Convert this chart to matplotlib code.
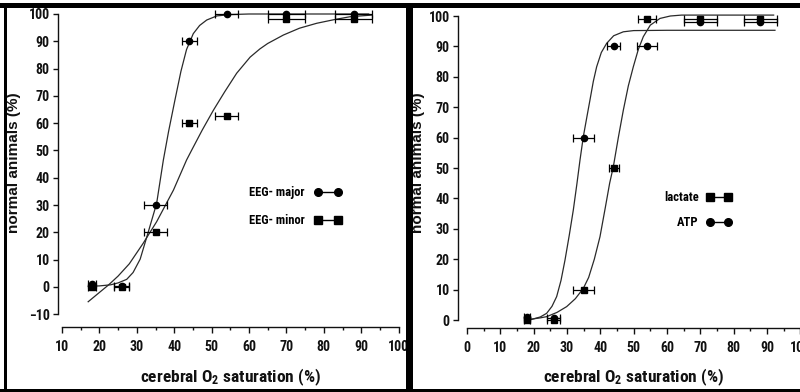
import matplotlib
matplotlib.use('Agg')
import matplotlib.pyplot as plt
from matplotlib.patches import Rectangle
from matplotlib.lines import Line2D
from matplotlib.ticker import MultipleLocator

# ---------------- data ----------------
sat = [18, 26, 35, 44, 54, 70, 88]

# left panel (EEG)
eeg_major = [1, 0.5, 30, 90, 100, 100, 100]
eeg_major_err = [1, 2, 3, 2, 3, 5, 5]
eeg_minor = [0, 0, 20, 60, 62.5, 98, 98]
eeg_minor_err = [1, 2, 3, 2, 3, 5, 5]

eeg_major_fit_x = [17, 20, 23, 25, 27.3, 29, 30.9, 33.1, 35.3, 37.1, 38.5, 40.2, 41.8,
                   43.3, 45.1, 46.8, 48.7, 51.4, 55, 60, 70, 80, 92]
eeg_major_fit_y = [0.3, 0.4, 0.8, 1.5, 2.8, 5.3, 10.2, 20.3, 30.6, 46.5, 57, 68.5, 79,
                   87, 92.8, 95.8, 97.8, 99.3, 99.8, 100, 100, 100, 100]
eeg_minor_fit_x = [17, 20, 22.4, 25, 28, 31.7, 35.3, 39.8, 43.3, 44.7, 47.5, 50.5, 53.5,
                   56.7, 60.3, 62.9, 65, 69.2, 73.5, 78.1, 83, 87, 92.8]
eeg_minor_fit_y = [-5.4, -2, 0.7, 4, 8.5, 16, 23.9, 35.5, 46.5, 50.2, 57.5, 64.8, 71.5,
                   78.3, 84.2, 87.2, 89.2, 92.3, 94.8, 96.6, 98, 99, 99.6]

# right panel (lactate / ATP)
lactate = [0, 0, 10, 50, 99, 99, 99]
lactate_err = [1, 2, 3.2, 1.5, 2.8, 5, 5]
atp = [1, 0.5, 60, 90, 90, 98, 98]
atp_err = [1, 2, 3.2, 2, 3, 5, 5]

atp_fit_x = [18, 19.4, 22, 23.9, 25.5, 26.9, 28.2, 29.4, 30.7, 31.9, 33, 33.9, 34.9, 36,
             36.9, 37.9, 38.9, 40.3, 41.9, 44, 46.9, 50, 60, 75, 92.4]
atp_fit_y = [0.1, 0.2, 1, 2.2, 4.5, 7.7, 13, 19.7, 28, 36.2, 45, 52.6, 60.3, 67,
             72.4, 78.5, 83.3, 88, 91, 93.5, 94.8, 95.2, 95.3, 95.3, 95.3]
lactate_fit_x = [18, 19.4, 22, 23.9, 27, 29.9, 32.5, 34.9, 36.5, 38.2, 39.9, 41.5, 42.8,
                 43.9, 45.4, 46.9, 48.4, 49.9, 51.4, 52.9, 55, 57.9, 61, 64.4, 75, 92]
lactate_fit_y = [0.2, 0.3, 0.7, 1.1, 2.5, 4.4, 7, 10.4, 14, 20, 27.4, 37, 45,
                 50.4, 60, 69, 77, 83.3, 89, 93.2, 97, 99.2, 100, 100.3, 100.3, 100.3]

xlabel = 'cerebral O$_2$ saturation (%)'
ylabel = 'normal animals (%)'

# ---------------- style ----------------
COND = ['Roboto Condensed', 'PT Sans Narrow', 'DejaVu Sans']
plt.rcParams['font.family'] = COND
plt.rcParams['font.weight'] = 'bold'
plt.rcParams['mathtext.default'] = 'regular'

W, H = 800, 392
fig = plt.figure(figsize=(W / 100, H / 100), dpi=100)
fig.patch.set_facecolor('white')


def fx(px):
    return px / W


def fy(py):
    return 1 - py / H


def add_axes(l, r, t, b):
    return fig.add_axes([fx(l), fy(b), fx(r) - fx(l), fy(t) - fy(b)])


INK = '#111111'
CURVE = '#2a2a2a'


def style_axes(ax, ybounds, xbounds):
    for s in ['top', 'right']:
        ax.spines[s].set_visible(False)
    for s in ['left', 'bottom']:
        ax.spines[s].set_linewidth(1.0)
        ax.spines[s].set_color(INK)
    ax.spines['left'].set_bounds(*ybounds)
    ax.spines['bottom'].set_bounds(*xbounds)
    ax.xaxis.set_major_locator(MultipleLocator(10))
    ax.xaxis.set_minor_locator(MultipleLocator(5))
    ax.yaxis.set_major_locator(MultipleLocator(10))
    ax.tick_params(axis='y', direction='out', length=3.5, width=1, pad=2.5,
                   labelsize=10, colors=INK)
    ax.tick_params(axis='x', which='major', direction='out', length=4, width=1, pad=5.5,
                   labelsize=10, colors=INK)
    ax.tick_params(axis='x', which='minor', direction='out', length=2.5, width=1, colors=INK)
    for lab in ax.get_xticklabels() + ax.get_yticklabels():
        lab.set_fontweight('bold')
    ax.patch.set_alpha(0)


def draw_points(ax, y, err, marker, ms):
    ax.errorbar(sat, y, xerr=err, fmt=marker, color='black', ms=ms, elinewidth=0.9,
                capsize=2.6, capthick=0.9, zorder=3)


# ---------------- left panel ----------------
axL = add_axes(58, 62 + (101 - 10) * 3.74, 10, 327)
axL.set_xlim(10 - 4 / 3.74, 101)
axL.set_ylim((287 - 327) / 2.73, (287 - 10) / 2.73)
style_axes(axL, (-10, 100), (10, 100))
axL.plot(eeg_major_fit_x, eeg_major_fit_y, color=CURVE, lw=0.9, zorder=2)
axL.plot(eeg_minor_fit_x, eeg_minor_fit_y, color=CURVE, lw=0.9, zorder=2)
draw_points(axL, eeg_minor, eeg_minor_err, 's', 5)
draw_points(axL, eeg_major, eeg_major_err, 'o', 4.5)
handlesL = [Line2D([], [], color='black', marker='o', ms=5.5, lw=1),
            Line2D([], [], color='black', marker='s', ms=6, lw=1)]
axL.legend(handlesL, ['EEG- major', 'EEG- minor'], markerfirst=False, numpoints=2,
           frameon=False, fontsize=9, handlelength=2.2, handletextpad=0.8,
           labelspacing=1.2, borderpad=0, borderaxespad=0, loc='upper right',
           bbox_to_anchor=(fx(342), fy(186)), bbox_transform=fig.transFigure)

# ---------------- right panel ----------------
axR = add_axes(458, 467 + 101 * 3.333, 10, 328)
axR.set_xlim(-9 / 3.333, 101)
axR.set_ylim((320 - 328) / 3.04, (320 - 10) / 3.04)
style_axes(axR, (0, 100), (0, 100))
axR.plot(atp_fit_x, atp_fit_y, color=CURVE, lw=0.9, zorder=2)
axR.plot(lactate_fit_x, lactate_fit_y, color=CURVE, lw=0.9, zorder=2)
draw_points(axR, atp, atp_err, 'o', 4.5)
draw_points(axR, lactate, lactate_err, 's', 5)
handlesR = [Line2D([], [], color='black', marker='s', ms=6, lw=1),
            Line2D([], [], color='black', marker='o', ms=5.5, lw=1)]
axR.legend(handlesR, ['lactate', 'ATP'], markerfirst=False, numpoints=2,
           frameon=False, fontsize=9, handlelength=2.1, handletextpad=0.55,
           labelspacing=1.0, borderpad=0, borderaxespad=0, loc='upper right',
           bbox_to_anchor=(fx(732), fy(191)), bbox_transform=fig.transFigure)

# ---------------- axis labels ----------------
for cx in (230, 633):
    fig.text(fx(cx), fy(377), xlabel, ha='center', va='center', fontsize=12.5,
             color=INK, fontweight='bold')
for cx in (14, 418):
    fig.text(fx(cx), fy(163), ylabel, ha='center', va='center', rotation=90,
             fontsize=11, color=INK, fontweight='bold',
             family=['Liberation Sans', 'DejaVu Sans'])

# ---------------- black frames ----------------
bands = [(0, 3, 800, 4.5),      # top band: x, y, w, h (pixels, from top)
         (3.5, 3, 3.5, 389),    # left band
         (0, 388.5, 800, 3.5),  # bottom band
         (405.5, 3, 7, 389)]    # divider
for bx, by, bw, bh in bands:
    fig.patches.append(Rectangle((fx(bx), fy(by + bh)), bw / W, bh / H,
                                 transform=fig.transFigure, facecolor='black',
                                 edgecolor='none', zorder=10))

fig.savefig('out.png', dpi=100)
